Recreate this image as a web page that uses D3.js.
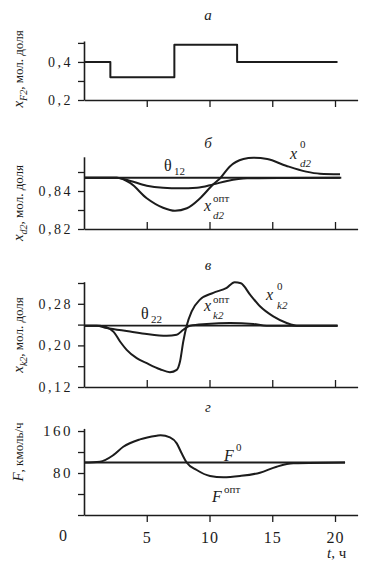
<!DOCTYPE html>
<html>
<head>
<meta charset="UTF-8">
<title>Оптимальное управление — переходные процессы</title>
<script src="https://d3js.org/d3.v7.min.js"></script>
<style>
  body { margin: 0; background: #fff; }
  svg text { font-family: "Liberation Serif", "DejaVu Serif", serif; fill: #1c1c1c; }
</style>
</head>
<body>
<svg id="chart" width="367" height="562"></svg>
<script>
// ---- data (t in hours) ----
var xTicks = [5, 10, 15, 20];

// panel а: feed composition x_F2 (step changes)
var tF2 = [0, 2.1, 7.2, 12.2, 20.2];
var xF2 = [0.40, 0.32, 0.49, 0.40, 0.40];

// panel б: distillate composition x_d2
var tTheta12 = [0, 20.5];
var theta12 = [0.847, 0.847];
var tXd2_0 = [0, 2.6, 3.7, 5.0, 6.3, 7.25, 8.2, 9.25, 10.3, 10.85, 11.6, 12.7, 13.5, 14.6, 16.1, 17.7, 18.8, 20.4];
var xd2_0 = [0.847, 0.847, 0.8441, 0.8362, 0.8312, 0.8296, 0.8309, 0.8362, 0.8435, 0.8467, 0.8528, 0.8568, 0.8575, 0.8568, 0.8533, 0.8502, 0.8491, 0.8488];
var tXd2_opt = [0, 2.6, 3.7, 5.0, 6.3, 7.65, 9.0, 10.3, 11.4, 13.0, 16.0, 20.4];
var xd2_opt = [0.847, 0.847, 0.8453, 0.8428, 0.8417, 0.8414, 0.8417, 0.8435, 0.8453, 0.8467, 0.8469, 0.847];

// panel в: bottoms composition x_k2
var tTheta22 = [0, 20.2];
var theta22 = [0.238, 0.238];
var tXk2_0 = [0, 1.27, 2.33, 2.87, 3.4, 4.2, 5.0, 6.06, 6.85, 7.39, 7.65, 7.91, 8.18, 8.58, 9.24, 10.3, 11.37, 12.0, 12.5, 13.23, 14.02, 15.08, 16.15, 16.95, 20.2];
var xk2_0 = [0.238, 0.238, 0.2269, 0.2075, 0.1915, 0.1755, 0.1658, 0.1542, 0.1484, 0.1529, 0.1689, 0.2075, 0.2379, 0.2655, 0.2881, 0.3011, 0.3107, 0.3215, 0.3195, 0.2978, 0.2752, 0.2558, 0.2431, 0.2379, 0.238];
var tXk2_opt = [0, 1.0, 1.8, 3.67, 5.0, 6.59, 7.39, 7.91, 8.45, 9.78, 11.63, 13.49, 14.56, 20.2];
var xk2_opt = [0.238, 0.238, 0.2336, 0.2269, 0.2219, 0.2185, 0.2205, 0.2301, 0.2379, 0.2412, 0.2431, 0.2412, 0.2379, 0.238];

// panel г: flow F, kmol/h
var tF0 = [0, 20.8];
var F0 = [100, 100];
var tFopt = [0, 1.27, 2.33, 3.13, 4.46, 5.8, 6.1, 6.85, 7.39, 7.78, 8.18, 8.98, 10.04, 11.1, 12.43, 14.02, 15.35, 16.68, 20.8];
var Fopt = [100, 101.5, 114, 130, 144, 151, 152, 148, 136.5, 117.5, 100, 85.7, 74.3, 71.8, 74.3, 80.6, 92, 98.5, 100];

// ---- layout ----
var svg = d3.select("#chart");
var ink = "#1c1c1c";
var x = d3.scaleLinear().domain([0, 21.8]).range([84, 357.6]);

var panels = [
  { letter: "а", letterY: 20, domain: [0.2, 0.51], range: [100, 41],
    ticks: [0.2, 0.3, 0.4, 0.5], labels: ["0,2", "", "0,4", ""], tickFont: 14, xTickDir: 7,
    ylab: [["x", 15, true, 0], ["F2", 10, true, 4], [", мол. доля", 13, false, -4]], ylabY: 69 },
  { letter: "б", letterY: 148, domain: [0.82, 0.858], range: [229, 156.8],
    ticks: [0.82, 0.83, 0.84, 0.85], labels: ["0,82", "", "0,84", ""], tickFont: 14, xTickDir: -7,
    ylab: [["x", 15, true, 0], ["d2", 10, true, 4], [", мол. доля", 13, false, -4]], ylabY: 203 },
  { letter: "в", letterY: 270, domain: [0.12, 0.3225], range: [387, 281.7],
    ticks: [0.12, 0.16, 0.20, 0.24, 0.28, 0.32], labels: ["0,12", "", "0,20", "", "0,28", ""], tickFont: 14, xTickDir: -7,
    ylab: [["x", 15, true, 0], ["k2", 10, true, 4], [", мол. доля", 13, false, -4]], ylabY: 335 },
  { letter: "г", letterY: 412, domain: [0, 165], range: [515, 428.4],
    ticks: [0, 40, 80, 120, 160], labels: ["", "", "80", "", "160"], tickFont: 15, xTickDir: 7,
    ylab: [["F", 15, true, 0], [", кмоль/ч", 13, false, 0]], ylabY: 452 }
];

panels.forEach(function(p) {
  p.y = d3.scaleLinear().domain(p.domain).range(p.range);
  var g = svg.append("g");
  p.g = g;

  // panel letter
  g.append("text").attr("x", 208).attr("y", p.letterY)
    .attr("text-anchor", "middle").attr("font-style", "italic").attr("font-size", 15)
    .text(p.letter);

  // y axis
  var ya = g.append("g").attr("transform", "translate(" + x(0) + ",0)")
    .call(d3.axisLeft(p.y).tickValues(p.ticks).tickSize(6).tickSizeOuter(0).tickPadding(5)
      .tickFormat(function(d, i) { return p.labels[i]; }));
  // x axis
  var xa = g.append("g").attr("transform", "translate(0," + p.range[0] + ")")
    .call(d3.axisBottom(x).tickValues(xTicks).tickSize(p.xTickDir).tickSizeOuter(0)
      .tickFormat(p.letter === "г" ? d3.format("d") : function() { return ""; }));

  [ya, xa].forEach(function(a) {
    a.attr("font-family", null).attr("font-size", null);
    a.select(".domain").attr("stroke", ink).attr("stroke-width", 1.6);
    a.selectAll(".tick line").attr("stroke", ink).attr("stroke-width", 1.3);
  });
  ya.selectAll(".tick text").attr("font-size", p.tickFont).attr("letter-spacing", 2.5).attr("fill", ink);
  xa.selectAll(".tick text").attr("font-size", 16).attr("letter-spacing", 1).attr("fill", ink).attr("dy", "1.1em");

  // rotated y label
  var lab = g.append("text")
    .attr("transform", "translate(23," + p.ylabY + ") rotate(-90)")
    .attr("text-anchor", "middle");
  p.ylab.forEach(function(s) {
    lab.append("tspan").text(s[0]).attr("font-size", s[1])
      .attr("font-style", s[2] ? "italic" : "normal").attr("dy", s[3]);
  });
});

// extra x labels on the bottom panel
var pg = panels[3];
pg.g.append("text").attr("x", x(0) - 21).attr("y", 541).attr("text-anchor", "middle")
  .attr("font-size", 16).text("0");
var tl = pg.g.append("text").attr("x", 327).attr("y", 558).attr("font-size", 15);
tl.append("tspan").attr("font-style", "italic").text("t");
tl.append("tspan").text(", ч");

// ---- curves ----
function series(p, ts, vs, curve, w) {
  var line = d3.line().x(function(d) { return x(d[0]); }).y(function(d) { return p.y(d[1]); }).curve(curve);
  p.g.append("path").datum(d3.zip(ts, vs))
    .attr("d", line).attr("fill", "none").attr("stroke", ink)
    .attr("stroke-width", w).attr("stroke-linejoin", "round");
}

series(panels[0], tF2, xF2, d3.curveStepAfter, 2);

series(panels[1], tTheta12, theta12, d3.curveLinear, 2);
series(panels[1], tXd2_opt, xd2_opt, d3.curveMonotoneX, 2);
series(panels[1], tXd2_0, xd2_0, d3.curveMonotoneX, 2);

series(panels[2], tTheta22, theta22, d3.curveLinear, 1.8);
series(panels[2], tXk2_opt, xk2_opt, d3.curveMonotoneX, 2);
series(panels[2], tXk2_0, xk2_0, d3.curveMonotoneX, 2);

series(panels[3], tF0, F0, d3.curveLinear, 2);
series(panels[3], tFopt, Fopt, d3.curveMonotoneX, 2);

// ---- curve labels ----
function stack(p, x0, y0, main, mainItalic, sup, supDy, sub, subDy, dx, subItalic) {
  var g = p.g;
  g.append("text").attr("x", x0).attr("y", y0).attr("font-size", 16)
    .attr("font-style", mainItalic ? "italic" : "normal").text(main);
  if (sup) g.append("text").attr("x", x0 + dx).attr("y", y0 + supDy).attr("font-size", 11).text(sup);
  if (sub) g.append("text").attr("x", x0 + dx).attr("y", y0 + subDy).attr("font-size", 11)
    .attr("font-style", subItalic ? "italic" : "normal").text(sub);
}

stack(panels[1], 164, 171, "θ", false, null, 0, "12", 4, 10, false);
stack(panels[1], 290, 159, "x", true, "0", -11, "d2", 8, 10, true);
stack(panels[1], 204, 211, "x", true, "опт", -9, "d2", 8, 9, true);

stack(panels[2], 141, 319, "θ", false, null, 0, "22", 4, 10, false);
stack(panels[2], 204, 311, "x", true, "опт", -8, "k2", 8, 9, true);
stack(panels[2], 266, 300, "x", true, "0", -10, "k2", 9, 11, true);

stack(panels[3], 224, 461, "F", true, "0", -10, null, 0, 12, false);
stack(panels[3], 212, 502, "F", true, "опт", -9, null, 0, 12, false);
</script>
</body>
</html>
